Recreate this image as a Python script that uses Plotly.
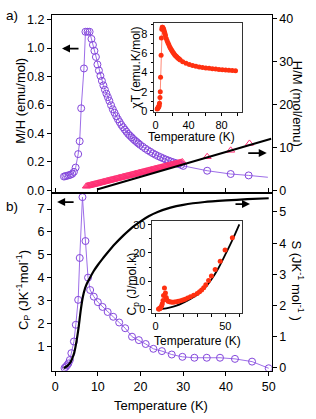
import plotly.graph_objects as go

W, H = 316, 419
FONT = "Liberation Sans, Arial, Helvetica, sans-serif"
PURPLE = "#8447dc"
PURPLE_LINE = "#9d6ee8"
PINK = "#ff2f74"
RED = "#ff3010"

# ---------------- data ----------------
# panel a : M/H (left axis)
mh_T = [2.07, 2.4, 2.8, 3.2, 3.6, 4.0, 4.4, 4.8, 5.4, 5.75, 6.1, 6.75, 7.1, 7.6, 8.07,
        8.5, 8.85, 9.2, 9.55, 9.9, 10.25, 10.6, 10.95, 11.3, 11.65, 12.0, 12.35, 12.7,
        13.1, 13.5, 13.9, 14.3, 14.7, 15.1, 15.5, 15.9, 16.3, 16.7, 17.1, 17.5, 17.9,
        18.3, 18.7, 19.1, 19.5, 19.9, 20.5, 21.1, 21.7, 22.3, 22.9, 23.5, 24.1, 24.7,
        25.3, 25.9, 26.5, 27.1, 27.7, 28.3, 28.9, 29.5, 30.0,
        35.6, 41.1, 45.3]
mh_val = [0.097, 0.100, 0.103, 0.106, 0.110, 0.116, 0.130, 0.160, 0.255, 0.345, 0.577,
          0.857, 1.115, 1.115, 1.115,
          1.065, 1.023, 0.981, 0.938, 0.885, 0.843, 0.805, 0.770, 0.738, 0.708, 0.680,
          0.655, 0.629, 0.598, 0.570, 0.546, 0.522, 0.500, 0.480, 0.460, 0.444, 0.428,
          0.412, 0.397, 0.385, 0.373, 0.361, 0.350, 0.340, 0.330, 0.320, 0.307, 0.294,
          0.282, 0.271, 0.260, 0.250, 0.241, 0.233, 0.225, 0.217, 0.210, 0.203, 0.197,
          0.191, 0.185, 0.179, 0.172,
          0.138, 0.115, 0.105]
mh_tail_T = [45.3, 49.8]
mh_tail_val = [0.105, 0.092]

# panel a : H/M (right axis)
hm_T = [7.30, 7.55, 7.80, 8.05, 8.30, 8.55, 8.80, 9.05, 9.30, 9.55, 9.80, 10.05, 10.30,
        10.55, 10.80, 11.05, 11.30, 11.55, 11.80, 12.05, 12.30, 12.55, 12.80, 13.05,
        13.30, 13.55, 13.80, 14.05, 14.30, 14.55, 14.80, 15.05, 15.30, 15.55, 15.80,
        16.05, 16.30, 16.55, 16.80, 17.05, 17.30, 17.55, 17.80, 18.05, 18.30, 18.55,
        18.80, 19.05, 19.30, 19.55, 19.80, 20.05, 20.30, 20.55, 20.80, 21.05, 21.30,
        21.55, 21.80, 22.05, 22.30, 22.55, 22.80, 23.05, 23.30, 23.55, 23.80, 24.05,
        24.30, 24.55, 24.80, 25.05, 25.30, 25.55, 25.80, 26.05, 26.30, 26.55, 26.80,
        27.05, 27.30, 27.55, 27.80, 28.05, 28.30, 28.55, 28.80, 29.05, 29.30, 29.55,
        29.80, 35.6, 41.1, 45.5]
hm_val = [0.95, 1.01, 1.08, 1.14, 1.20, 1.26, 1.33, 1.39, 1.45, 1.51, 1.58, 1.64, 1.70,
          1.76, 1.83, 1.89, 1.95, 2.01, 2.08, 2.14, 2.20, 2.26, 2.33, 2.39, 2.45, 2.51,
          2.58, 2.64, 2.70, 2.76, 2.83, 2.89, 2.95, 3.01, 3.08, 3.14, 3.20, 3.26, 3.33,
          3.39, 3.45, 3.51, 3.58, 3.64, 3.70, 3.76, 3.83, 3.89, 3.95, 4.01, 4.08, 4.14,
          4.20, 4.26, 4.33, 4.39, 4.45, 4.51, 4.58, 4.64, 4.70, 4.76, 4.83, 4.89, 4.95,
          5.01, 5.08, 5.14, 5.20, 5.26, 5.33, 5.39, 5.45, 5.51, 5.58, 5.64, 5.70, 5.76,
          5.83, 5.89, 5.95, 6.01, 6.08, 6.14, 6.20, 6.26, 6.33, 6.39, 6.45, 6.51, 6.58,
          7.8, 9.3, 10.9]
cw_T = [9.8, 50.6]
cw_val = [0.2, 12.0]

# inset a : chi*T
chit_T = [2, 2.5, 3, 3.5, 4, 4.4, 4.8, 5.4, 5.75, 6.1, 6.75, 7.1, 7.6, 8.1, 8.5, 9, 9.5,
          10, 10.5, 11, 11.5, 12, 13, 14, 15, 16, 17, 18, 19, 20, 21, 22, 23, 24, 25, 26,
          27, 28, 29, 30, 33, 37, 41, 45, 49, 53, 57, 61, 65, 69, 73, 77, 81, 85, 89, 93, 97]
chit_val = [0.2, 0.25, 0.32, 0.38, 0.46, 0.57, 0.8, 1.4, 2.0, 3.5, 5.8, 7.6, 8.5, 8.7,
            8.7, 8.65, 8.55, 8.45, 8.3, 8.15, 8.0, 7.85, 7.55, 7.3, 7.1, 6.9, 6.7, 6.55,
            6.4, 6.25, 6.1, 6.0, 5.88, 5.77, 5.68, 5.6, 5.52, 5.45, 5.38, 5.3, 5.12, 4.95,
            4.82, 4.72, 4.65, 4.58, 4.53, 4.48, 4.44, 4.4, 4.36, 4.32, 4.29, 4.26, 4.23,
            4.2, 4.18]

# panel b : magnetic Cp (left) and entropy S (right)
cp_T = [2.2, 2.5, 2.8, 3.1, 3.45, 3.8, 4.4, 4.84, 5.4, 5.76, 6.4, 7.1, 7.7, 8.2, 9.06,
        10.0, 11.1, 12.3, 13.6, 15.0, 16.4, 18.0, 19.6, 21.2, 23.0, 25.0, 27.3, 29.8,
        32.6, 35.5, 38.6, 42.1, 46.1, 50.0]
cp_val = [0.05, 0.10, 0.17, 0.25, 0.40, 0.70, 1.21, 1.94, 3.03, 4.86, 7.52, 5.60, 4.00,
          3.46, 3.17, 2.93, 2.72, 2.50, 2.29, 2.04, 1.79, 1.42, 1.27, 1.10, 0.89, 0.79,
          0.64, 0.54, 0.50, 0.50, 0.50, 0.45, 0.33, 0.04]
s_T = [2, 2.5, 3, 3.5, 4, 4.5, 5, 5.5, 6, 6.5, 7, 7.5, 8, 9, 10, 11, 12, 14, 16, 18, 20,
       22, 24, 27, 30, 35, 40, 45, 50]
s_val = [0.0, 0.03, 0.08, 0.16, 0.3, 0.5, 0.85, 1.3, 1.85, 2.28, 2.55, 2.72, 2.85, 3.1,
         3.3, 3.48, 3.65, 3.97, 4.25, 4.5, 4.7, 4.87, 5.0, 5.14, 5.23, 5.32, 5.37, 5.41, 5.44]

# inset b : total Cp and lattice
cpt_T = [2.2, 2.5, 2.8, 3.1, 3.45, 3.8, 4.4, 4.84, 5.4, 5.76, 6.4, 7.1, 7.7, 8.2, 9.06,
         10.0, 11.1, 12.3, 13.6, 15.0, 16.4, 18.0, 19.6, 21.2, 23.0, 25.0, 27.3, 29.8,
         31.5, 33.0, 34.5, 36.0, 38.0, 40.0, 42.7, 46.3, 49.8, 55.0]
cpt_val = [0.1, 0.15, 0.2, 0.3, 0.45, 0.75, 1.3, 2.0, 3.1, 4.9, 7.6, 5.8, 4.2, 3.3, 2.9,
           2.7, 2.6, 2.55, 2.6, 2.7, 2.85, 3.05, 3.3, 3.6, 4.0, 4.45, 5.0, 5.6, 6.2, 6.9,
           7.7, 8.7, 10.2, 11.8, 14.1, 17.1, 21.1, 25.4]
lat_T = [2, 5, 10, 15, 20, 25, 30, 35, 40, 45, 50, 55, 60]
lat_val = [0.0, 0.15, 0.6, 1.3, 2.4, 3.7, 5.2, 7.4, 10.6, 14.6, 19.5, 24.6, 30.2]

# ---------------- figure ----------------
fig = go.Figure()

# panel a
fig.add_trace(go.Scatter(x=mh_tail_T, y=mh_tail_val, mode="lines", xaxis="x2", yaxis="y3",
                         line=dict(color=PURPLE_LINE, width=1), showlegend=False))
fig.add_trace(go.Scatter(x=mh_T, y=mh_val, mode="lines+markers", xaxis="x2", yaxis="y3",
                         line=dict(color=PURPLE_LINE, width=1),
                         marker=dict(symbol="circle-open", size=7, color=PURPLE,
                                     line=dict(width=1, color=PURPLE)),
                         showlegend=False))
fig.add_trace(go.Scatter(x=hm_T, y=hm_val, mode="markers", xaxis="x2", yaxis="y4",
                         marker=dict(symbol="triangle-up-open", size=7, color=PINK,
                                     line=dict(width=1, color=PINK)),
                         showlegend=False))
fig.add_trace(go.Scatter(x=cw_T, y=cw_val, mode="lines", xaxis="x2", yaxis="y4",
                         line=dict(color="black", width=2), showlegend=False))

# panel b
fig.add_trace(go.Scatter(x=s_T, y=s_val, mode="lines", xaxis="x", yaxis="y2",
                         line=dict(color="black", width=2.2, shape="spline", smoothing=0.6),
                         showlegend=False))
fig.add_trace(go.Scatter(x=cp_T, y=cp_val, mode="lines+markers", xaxis="x", yaxis="y",
                         line=dict(color=PURPLE_LINE, width=1),
                         marker=dict(symbol="circle-open", size=7, color=PURPLE,
                                     line=dict(width=1, color=PURPLE)),
                         showlegend=False))

# inset a
fig.add_trace(go.Scatter(x=chit_T, y=chit_val, mode="lines+markers", xaxis="x3", yaxis="y5",
                         line=dict(color="#ff8a78", width=1),
                         marker=dict(symbol="circle", size=5, color=RED),
                         showlegend=False))
# inset b
fig.add_trace(go.Scatter(x=lat_T, y=lat_val, mode="lines", xaxis="x4", yaxis="y6",
                         line=dict(color="black", width=1.8, shape="spline"),
                         showlegend=False))
fig.add_trace(go.Scatter(x=cpt_T, y=cpt_val, mode="markers", xaxis="x4", yaxis="y6",
                         marker=dict(symbol="circle", size=5, color=RED),
                         showlegend=False))


def px(x):
    return x / W


def py(y):
    return 1 - y / H


XD = [px(52), px(275)]
YA = [py(193), py(12)]
YB = [py(375), py(193)]
tickfont = dict(family=FONT, size=12.5, color="black")
small_font = dict(family=FONT, size=11, color="black")
common = dict(showgrid=False, zeroline=False, showline=True, linecolor="black",
              linewidth=1.2, tickcolor="black", tickfont=tickfont)
inset_common = dict(showgrid=False, zeroline=False, showline=True, linecolor="#333",
                    linewidth=1, tickcolor="black", tickfont=small_font, mirror=True,
                    ticks="outside", ticklen=3)

fig.update_layout(
    width=W, height=H, margin=dict(l=0, r=0, t=0, b=0),
    paper_bgcolor="white", plot_bgcolor="rgba(0,0,0,0)",
    font=dict(family=FONT, color="black"),
    hovermode=False,
    xaxis=dict(domain=XD, anchor="y", range=[-0.69, 50.69], ticks="outside", ticklen=4,
               tickvals=[0, 10, 20, 30, 40, 50], **common),
    yaxis=dict(domain=YB, anchor="x", range=[-0.073, 7.73], ticks="outside", ticklen=4,
               tickvals=[1, 2, 3, 4, 5, 6, 7], **common),
    yaxis2=dict(overlaying="y", anchor="x", side="right", range=[-0.094, 5.63],
                ticks="outside", ticklen=4, tickvals=[0, 1, 2, 3, 4, 5], **common),
    xaxis2=dict(domain=XD, anchor="y3", range=[-0.69, 50.69], ticks="inside", ticklen=4,
                tickvals=[0, 10, 20, 30, 40, 50], showticklabels=False, mirror=True,
                **common),
    yaxis3=dict(domain=YA, anchor="x2", range=[-0.0138, 1.2345], ticks="outside",
                ticklen=4, tickvals=[0, 0.2, 0.4, 0.6, 0.8, 1.0, 1.2],
                ticktext=["0.0", "0.2", "0.4", "0.6", "0.8", "1.0", "1.2"], **common),
    yaxis4=dict(overlaying="y3", anchor="x2", side="right", range=[-0.456, 40.8],
                ticks="outside", ticklen=4, tickvals=[0, 10, 20, 30, 40], **common),
    xaxis3=dict(domain=[px(155), px(245)], anchor="y5", range=[-2.4, 105],
                tickvals=[0, 40, 80],
                minor=dict(dtick=20, tick0=0, ticklen=3, ticks="outside", tickcolor="black"),
                **inset_common),
    yaxis5=dict(domain=[py(111), py(20)], anchor="x3", range=[-0.1, 9.19],
                tickvals=[0, 2, 4, 6, 8],
                minor=dict(dtick=1, tick0=0, ticklen=2, ticks="outside", tickcolor="black"),
                **inset_common),
    xaxis4=dict(domain=[px(153), px(245)], anchor="y6", range=[-2.8, 62],
                tickvals=[0, 50],
                minor=dict(dtick=10, tick0=0, ticklen=3, ticks="outside", tickcolor="black"),
                **inset_common),
    yaxis6=dict(domain=[py(316), py(222.7)], anchor="x4", range=[-1.29, 31.2],
                tickvals=[0, 10, 20, 30],
                minor=dict(dtick=5, tick0=0, ticklen=2, ticks="outside", tickcolor="black"),
                **inset_common),
)

ann = []


def label(text, x, y, angle=0, size=13, xanchor="center"):
    ann.append(dict(text=text, x=px(x), y=py(y), xref="paper", yref="paper",
                    showarrow=False, textangle=angle, xanchor=xanchor, yanchor="middle",
                    font=dict(family=FONT, size=size, color="black")))


label("a)", 3, 13, size=13.5, xanchor="left")
label("b)", 3, 207, size=13.5, xanchor="left")
label("M/H (emu/mol)", 19, 100, angle=-90)
label("H/M (mol/emu)", 302, 103, angle=90)
label("C<sub>P</sub> (JK<sup>-1</sup>mol<sup>-1</sup>)", 23, 293, angle=-90)
label("S (JK<sup>-1</sup> mol<sup>-1</sup> )", 302, 283, angle=90)
label("Temperature (K)", 163, 410)
label("\u03c7T (emu.K/mol)", 137, 66, angle=-90, size=12)
label("Temperature (K)", 194, 137, size=12)
label("C<sub>p</sub> (J/mol.k)", 134, 286, angle=-90, size=12)
label("Temperature (K)", 200, 345, size=12)


def arrow(hx, hy, dx):
    ann.append(dict(text="", x=px(hx), y=py(hy), xref="paper", yref="paper",
                    showarrow=True, ax=dx, ay=0, arrowhead=2, arrowsize=1,
                    arrowwidth=1.6, arrowcolor="black"))


arrow(62, 46.5, 18)
arrow(270, 153, -20)
arrow(57, 203, 18)
arrow(253, 205, -16)

fig.update_layout(annotations=ann)
fig.write_html("out.html", config={"displayModeBar": False, "staticPlot": True},
               post_script="document.body.style.margin='0';document.body.style.padding='0';")
